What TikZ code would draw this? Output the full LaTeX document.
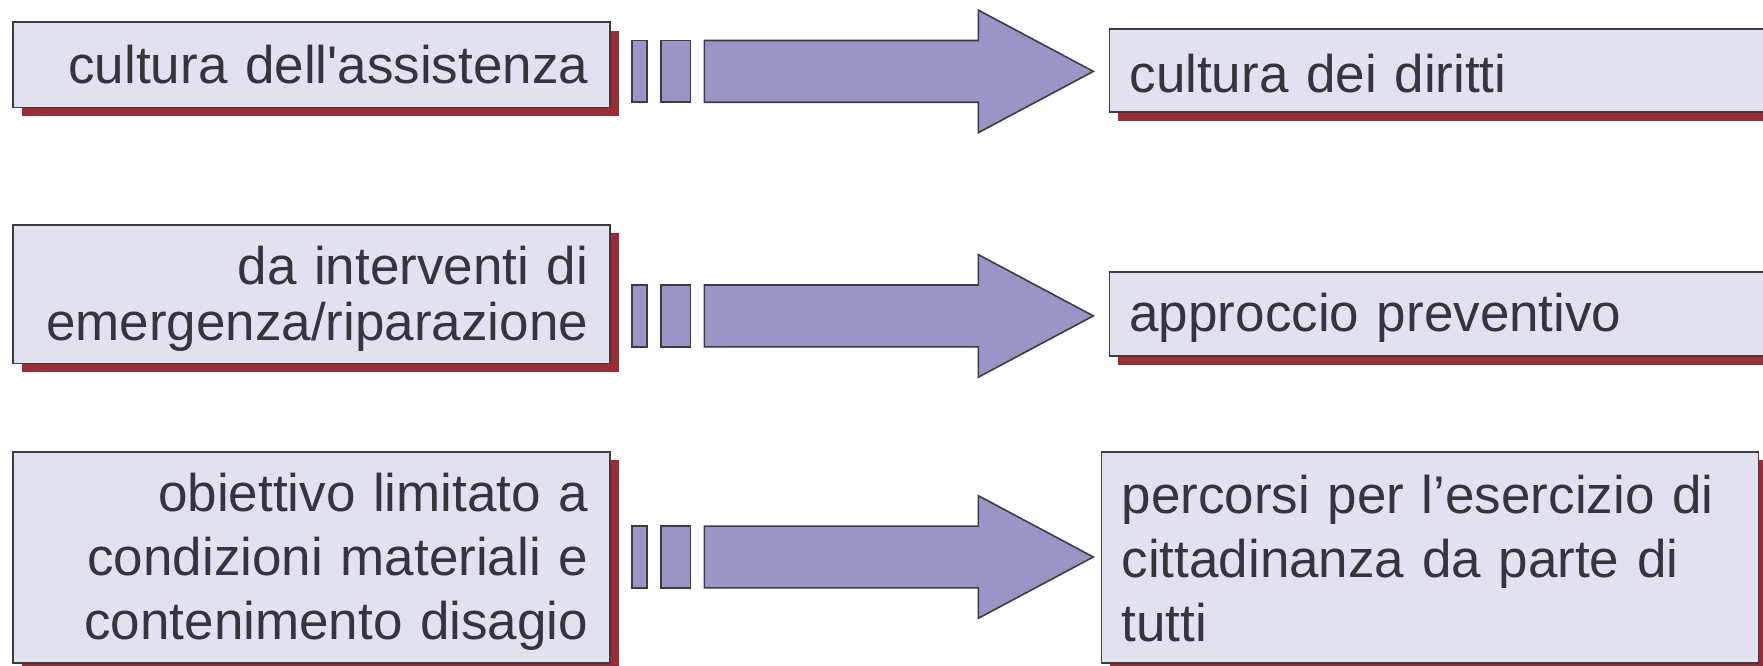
\documentclass[tikz,border=0pt]{standalone}
\usepackage{fontspec}
\newfontfamily\labelfont{Liberation Sans}
\usetikzlibrary{shadows}
\definecolor{boxfill}{HTML}{E2E1EF}
\definecolor{arrowfill}{HTML}{9A95C7}
\definecolor{shadowred}{HTML}{982D35}
\definecolor{inkgray}{HTML}{35353B}
\definecolor{edgegray}{HTML}{3C3C42}
\newcommand\ls{\rule[-7pt]{0pt}{45pt}}
\newcommand\fl[1]{\rule[-7pt]{0pt}{#1pt}}
\tikzset{
  txtbox/.style={draw=edgegray, line width=1.6pt, fill=boxfill, text=inkgray,
    inner ysep=0pt, anchor=north west,
    drop shadow={shadow xshift=8.5pt, shadow yshift=-8.5pt, fill=shadowred, opacity=1}},
  lbox/.style={txtbox, inner xsep=22pt, text width=553pt, minimum width=597pt, align=right},
  rbox/.style={txtbox, inner xsep=20pt, align=left},
  blockpart/.style={draw=edgegray, line width=1.6pt, fill=arrowfill, line join=miter}
}
\begin{document}
\begin{tikzpicture}[x=1pt,y=-1pt]
\useasboundingbox (0,0) rectangle (1763,666);
\clip (0,0) rectangle (1763,666);
% left boxes
\node[lbox, minimum height=85.4pt, font=\labelfont\fontsize{53}{56}\selectfont] (l1) at (12.4,21.4) {\fl{52}cultura dell'assistenza};
\node[lbox, minimum height=138.7pt, font=\labelfont\fontsize{53}{56}\selectfont] (l2) at (12.4,224) {\fl{55}da interventi di\\\ls emergenza/riparazione};
\node[lbox, minimum height=211pt, font=\labelfont\fontsize{53}{64}\selectfont] (l3) at (12.4,451) {\fl{55}obiettivo limitato a\\\ls condizioni materiali e\\\ls contenimento disagio};
% right boxes
\node[rbox, minimum height=83.2pt, minimum width=690pt, text width=650pt, font=\labelfont\fontsize{53}{56}\selectfont] (r1) at (1108.7,28.1) {\fl{59}cultura dei diritti};
\node[rbox, minimum height=84.3pt, minimum width=690pt, text width=650pt, font=\labelfont\fontsize{53}{56}\selectfont] (r2) at (1108.7,271) {\fl{53}approccio preventivo};
\node[rbox, minimum height=211pt, minimum width=656.7pt, text width=616.7pt, font=\labelfont\fontsize{53}{64}\selectfont] (r3) at (1100.8,451) {\fl{55}percorsi per l’esercizio di\\\ls cittadinanza da parte di\\\ls tutti};
% block arrows
\foreach \c/\n in {71.4/1,315.9/2,557/3}{
  \draw[blockpart] (632,\c-30.9) rectangle (647,\c+30.9);
  \draw[blockpart] (661,\c-30.9) rectangle (690.5,\c+30.9);
  \draw[blockpart] (704.3,\c-30.9) -- (978.3,\c-30.9) -- (978.3,\c-61.3)
     -- (1093.3,\c) -- (978.3,\c+61.3) -- (978.3,\c+30.9) -- (704.3,\c+30.9) -- cycle;
}
\end{tikzpicture}
\end{document}
